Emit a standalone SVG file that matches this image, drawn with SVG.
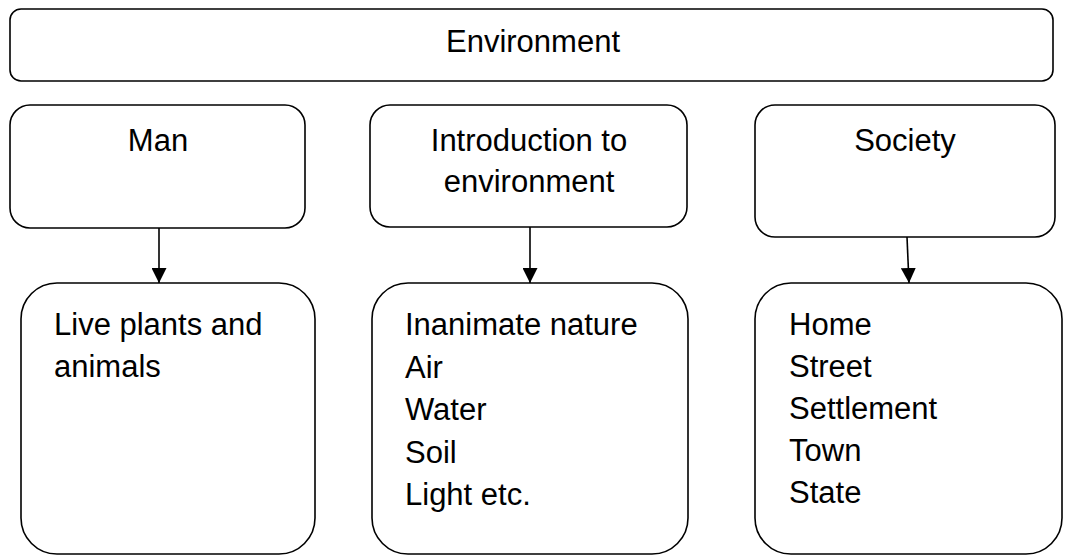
<svg xmlns="http://www.w3.org/2000/svg" width="1065" height="556" viewBox="0 0 1065 556">
<style>
.box{fill:#fff;stroke:#000;stroke-width:1.6}
.t{font-family:"Liberation Sans",Arial,sans-serif;font-size:31px;fill:#000}
.c{text-anchor:middle}
.ln{stroke:#000;stroke-width:1.6;fill:none}
</style>
<defs>
<marker id="arr" markerWidth="15" markerHeight="15" refX="15" refY="7.5" orient="auto" markerUnits="userSpaceOnUse">
<path d="M0,0 L15,7.5 L0,15 Z" fill="#000"/>
</marker>
</defs>
<rect width="1065" height="556" fill="#fff"/>
<g id="environment">
<rect class="box" x="10" y="9" width="1043" height="72" rx="11"/>
<text class="t c" x="533" y="52">Environment</text>
</g>
<g id="man">
<rect class="box" x="10" y="105" width="295" height="123" rx="20"/>
<text class="t c" x="158" y="151">Man</text>
</g>
<g id="intro">
<rect class="box" x="370" y="105" width="317" height="122" rx="20"/>
<text class="t c" x="529" y="151">Introduction to</text>
<text class="t c" x="529" y="192">environment</text>
</g>
<g id="society">
<rect class="box" x="755" y="105" width="300" height="132" rx="20"/>
<text class="t c" x="905" y="151">Society</text>
</g>
<g id="live">
<rect class="box" x="21" y="283" width="294" height="271" rx="36"/>
<text class="t" x="54" y="335">Live plants and</text>
<text class="t" x="54" y="377">animals</text>
</g>
<g id="inanimate">
<rect class="box" x="372" y="283" width="316" height="271" rx="36"/>
<text class="t" x="405" y="335">Inanimate nature</text>
<text class="t" x="405" y="378">Air</text>
<text class="t" x="405" y="420">Water</text>
<text class="t" x="405" y="463">Soil</text>
<text class="t" x="405" y="505">Light etc.</text>
</g>
<g id="places">
<rect class="box" x="755" y="283" width="307" height="271" rx="36"/>
<text class="t" x="789" y="335">Home</text>
<text class="t" x="789" y="377">Street</text>
<text class="t" x="789" y="419">Settlement</text>
<text class="t" x="789" y="461">Town</text>
<text class="t" x="789" y="503">State</text>
</g>
<g id="connectors">
<line class="ln" x1="159" y1="228" x2="159" y2="283" marker-end="url(#arr)"/>
<line class="ln" x1="530" y1="227" x2="530" y2="283" marker-end="url(#arr)"/>
<line class="ln" x1="907" y1="237" x2="909" y2="283" marker-end="url(#arr)"/>
</g>
</svg>
